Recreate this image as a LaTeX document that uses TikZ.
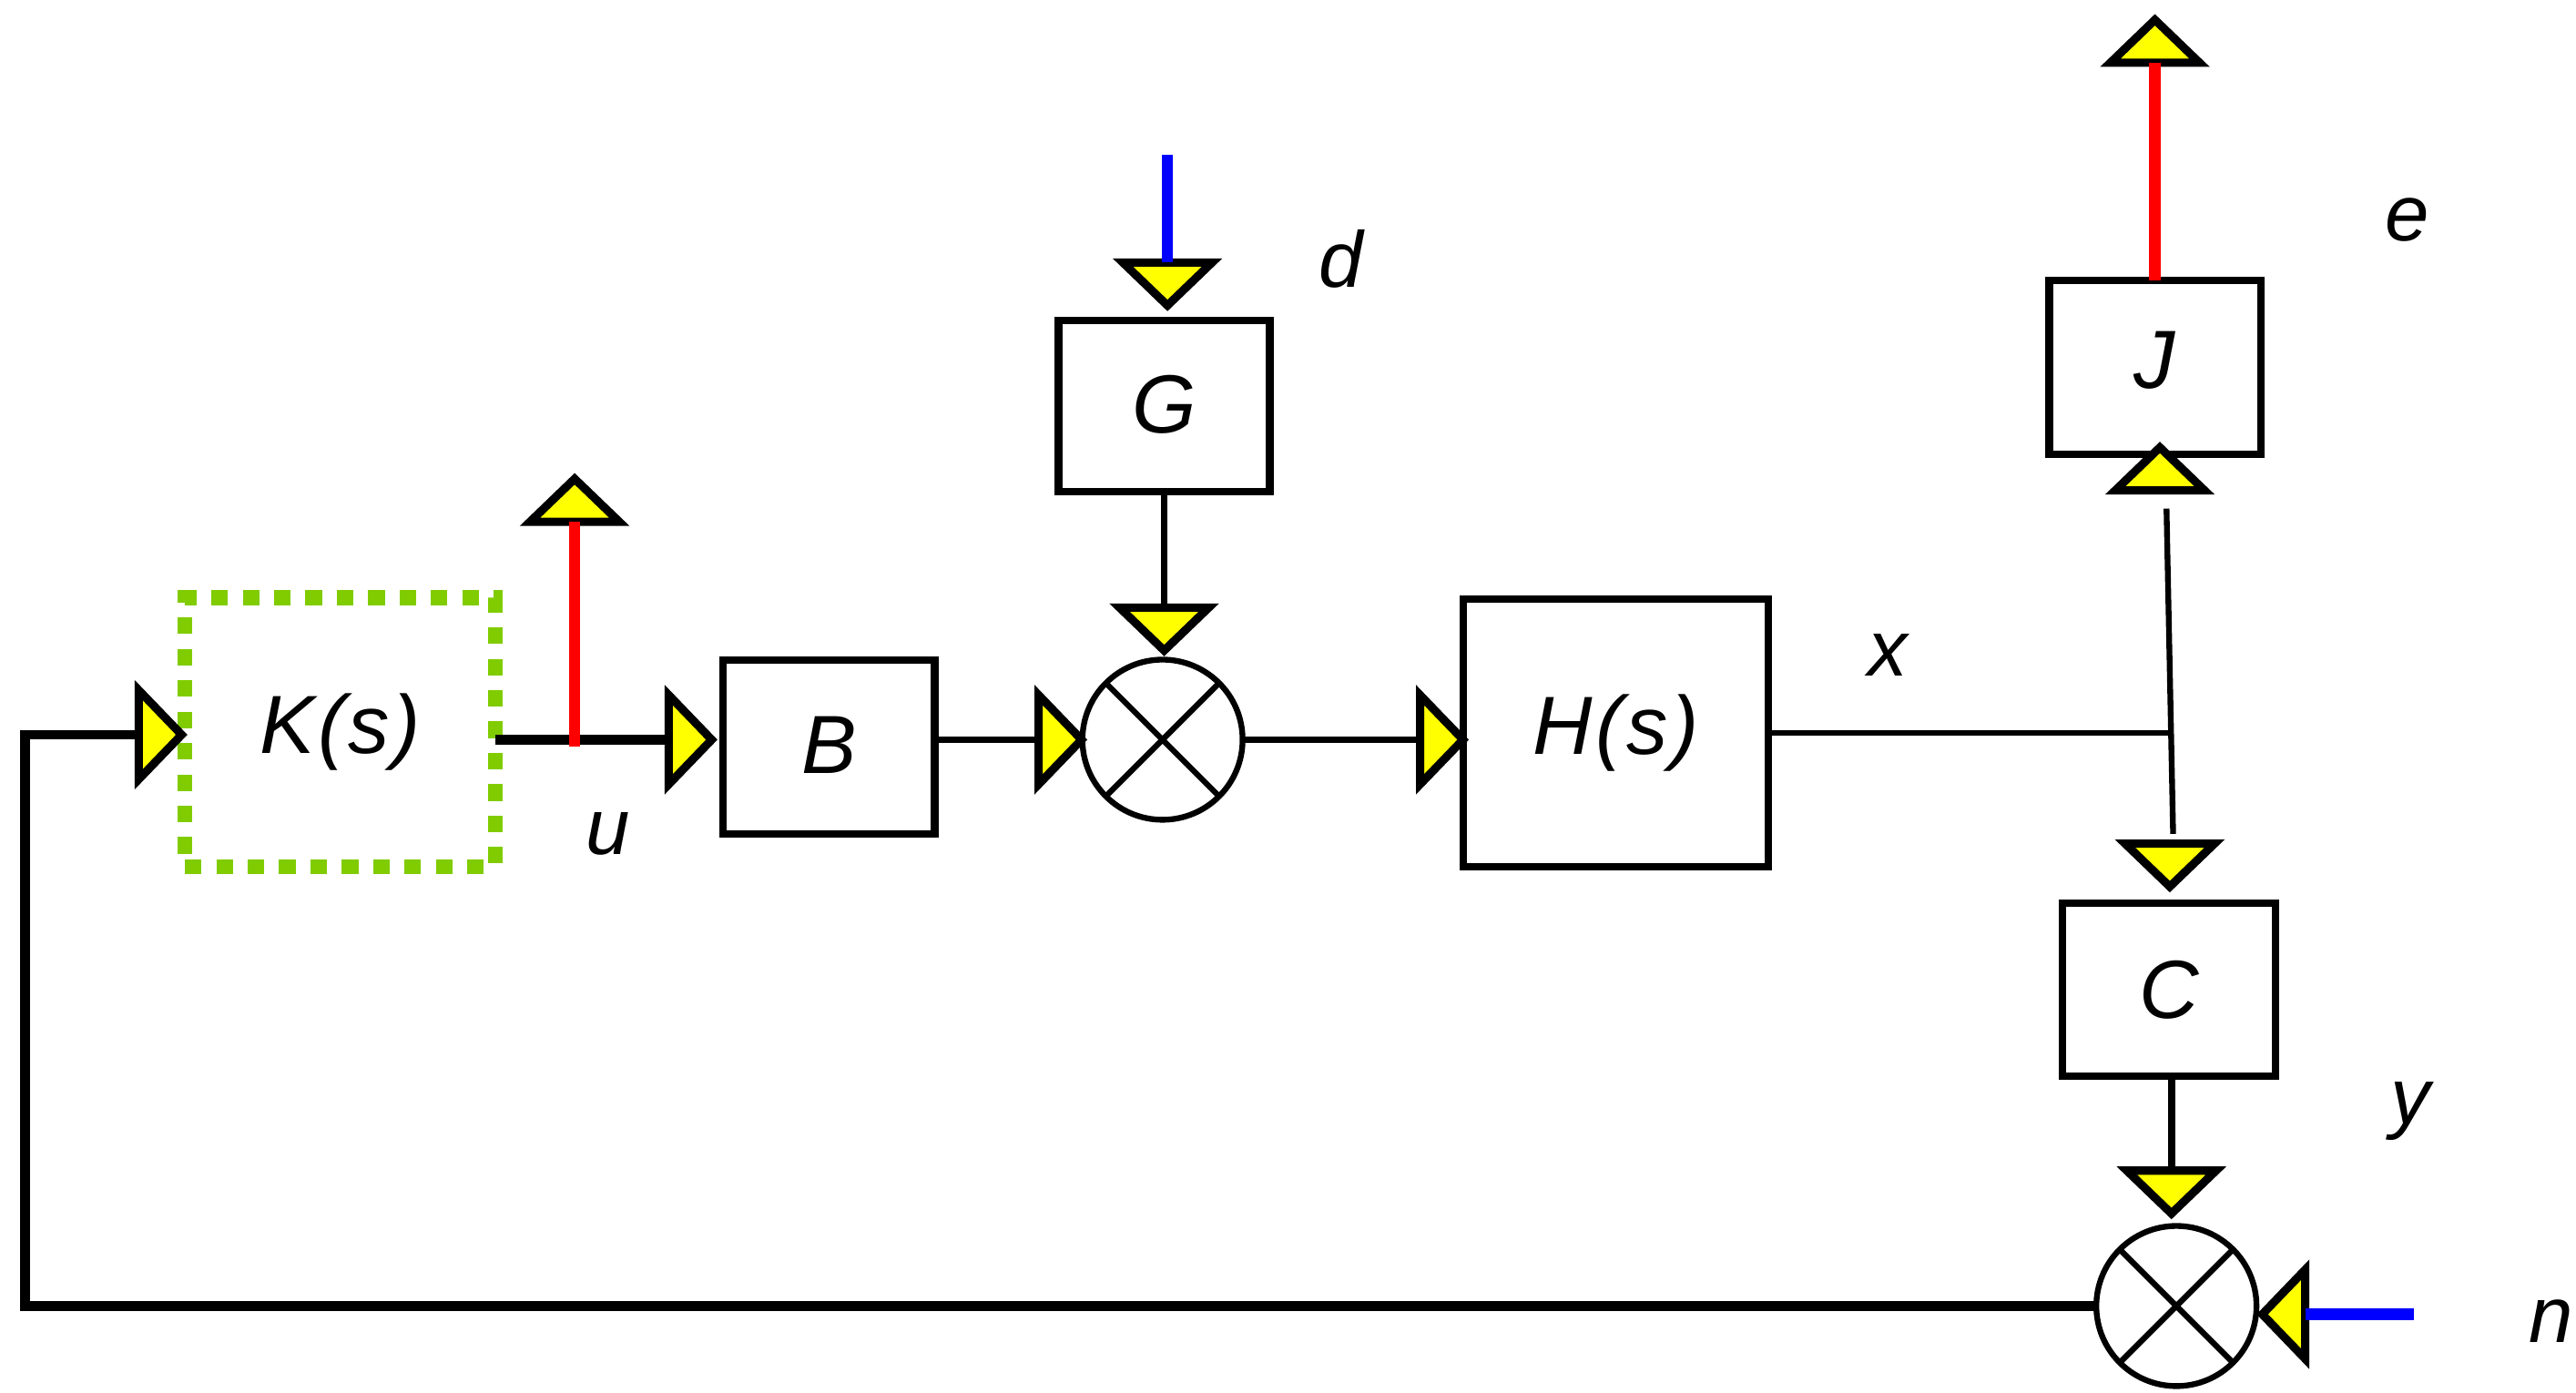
\documentclass[tikz,border=0pt]{standalone}
\usepackage{fontspec}
\setmainfont{Liberation Sans}
\usetikzlibrary{shapes.geometric}
\definecolor{kgreen}{RGB}{128,204,0}
\definecolor{ylw}{RGB}{255,255,0}
\definecolor{sigred}{RGB}{255,0,0}
\definecolor{sigblue}{RGB}{0,0,255}
\begin{document}
\begin{tikzpicture}[x=1pt,y=-1pt,
  blk/.style={draw, line width=4.5pt, minimum width=128pt, minimum height=105pt,
    inner sep=0pt, outer sep=0pt, font=\fontsize{50}{60}\selectfont\itshape},
  kbox/.style={draw=kgreen, line width=9pt, dash pattern=on 10pt off 9pt,
    minimum width=188pt, minimum height=163pt, inner sep=0pt, outer sep=0pt,
    font=\fontsize{50}{60}\selectfont\itshape},
  tri/.style={draw, fill=ylw, line width=5pt, isosceles triangle,
    isosceles triangle stretches, minimum width=54pt, minimum height=26pt,
    inner sep=0pt, outer sep=0pt},
  sumc/.style={circle, draw, line width=3.5pt, minimum size=97pt, inner sep=0pt, outer sep=0pt},
  crossl/.style={line width=3.5pt},
  thinl/.style={line width=3.5pt},
  thickl/.style={line width=6pt},
  fbl/.style={line width=6pt},
  redl/.style={draw=sigred, line width=7pt},
  bluel/.style={draw=sigblue, line width=7pt},
  lbl/.style={font=\fontsize{48}{58}\selectfont\itshape, inner sep=0pt}
]
\useasboundingbox (0,0) rectangle (1560,843.14);

% blocks
\node[kbox] (K) at (206,443.5) {K\kern2pt(\kern2pt s\kern2pt)};
\node[blk] (B) at (502,452.5) {\raisebox{2pt}{B}};
\node[blk, minimum height=104pt] (G) at (705,246) {\raisebox{2pt}{G}};
\node[blk, minimum width=185pt, minimum height=162pt] (H) at (978.5,444) {H\kern2pt(\kern2pt s\kern2pt)};
\node[blk] (J) at (1305,222.5) {\raisebox{9pt}{J}};
\node[blk, minimum width=129pt] (C) at (1313.5,599.5) {\raisebox{-5pt}{C}};

% summing junctions
\node[sumc] (S1) at (704,448) {};
\node[sumc] (S2) at (1318,791) {};
\draw[crossl] (S1.north west) -- (S1.south east) (S1.north east) -- (S1.south west);
\draw[crossl] (S2.north west) -- (S2.south east) (S2.north east) -- (S2.south west);

% triangles (arrow heads)
\node[tri, anchor=apex] (tK) at (110,445) {};
\node[tri, anchor=apex, rotate=90] (tu) at (348,290) {};
\node[tri, anchor=apex] (tB) at (431,448) {};
\node[tri, anchor=apex] (tS1) at (655,448) {};
\node[tri, anchor=apex, rotate=-90] (tG) at (707,185) {};
\node[tri, anchor=apex, rotate=-90] (tS1t) at (705,394) {};
\node[tri, anchor=apex] (tH) at (886,448) {};
\node[tri, anchor=apex, rotate=90] (tJ) at (1308,271) {};
\node[tri, anchor=apex, rotate=90] (te) at (1305,12) {};
\node[tri, anchor=apex, rotate=-90] (tC) at (1314,537) {};
\node[tri, anchor=apex, rotate=-90] (tS2t) at (1315,735) {};
\node[tri, anchor=apex, rotate=180] (tn) at (1370,796) {};

% coordinates
\coordinate (fbc) at (15,791);
\coordinate (uj) at (348,452);
\coordinate (dtop) at (707,94);
\coordinate (xj) at (1314,444);
\coordinate (vt) at (1312,308);
\coordinate (vb) at (1316,505);
\coordinate (nend) at (1462,796);

% connectors
\draw[fbl] (S2.west) -- (fbc) |- (tK.lower side);
\draw[thickl] (K.east |- tB.lower side) -- (tB.lower side);
\draw[redl] (uj) -- (tu.lower side);
\draw[thinl] (B.east |- tS1.lower side) -- (tS1.lower side);
\draw[bluel] (dtop) -- (tG.lower side);
\draw[thinl] (G.south) -- (tS1t.lower side);
\draw[thinl] (S1.east) -- (tH.lower side);
\draw[thinl] (H.east) -- (xj);
\draw[thinl] (vt) -- (vb);
\draw[redl] (te.lower side |- J.north) -- (te.lower side);
\draw[line width=4.5pt] (tS2t.lower side |- C.south) -- (tS2t.lower side);
\draw[bluel] (nend) -- (tn.lower side);

% labels
\node[lbl] (lu) at (368,505) {u};
\node[lbl] (ld) at (812,157) {d};
\node[lbl] (lx) at (1143,397) {x};
\node[lbl] (le) at (1458,133) {e};
\node[lbl] (ly) at (1460,673) {y};
\node[lbl] (ln) at (1545,800) {n};
\end{tikzpicture}
\end{document}
